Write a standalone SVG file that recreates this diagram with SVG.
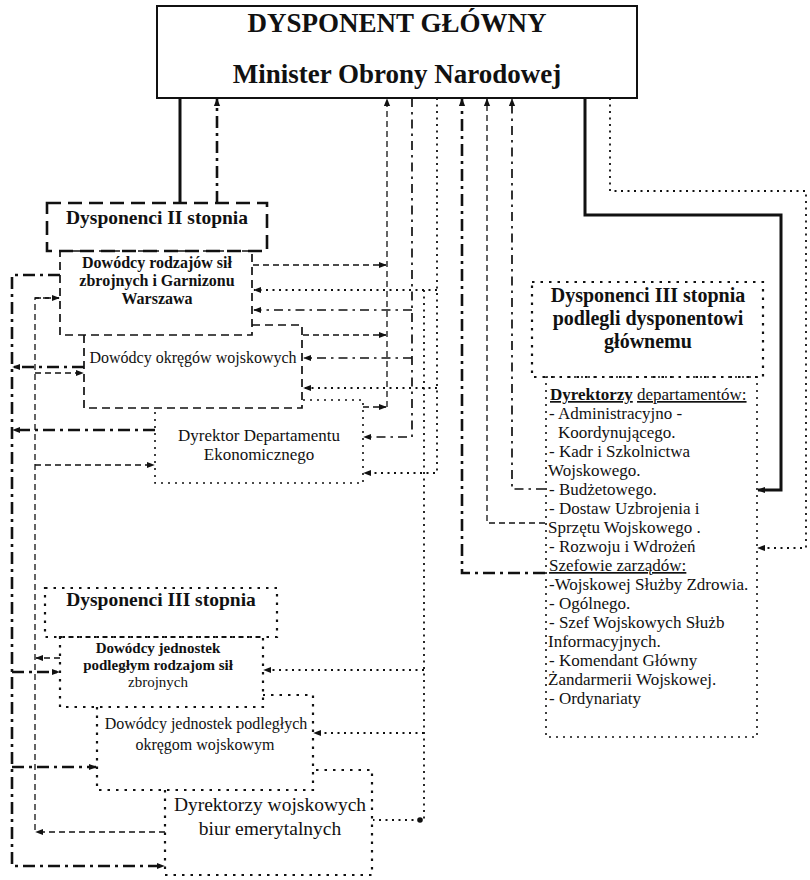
<svg xmlns="http://www.w3.org/2000/svg" width="810" height="880" viewBox="0 0 810 880">
<style>
text{font-family:"Liberation Serif","Times New Roman",serif;fill:#111}
.b{font-weight:bold}
.c{text-anchor:middle}
.solid{fill:none;stroke:#111;stroke-width:3}
.dd{fill:none;stroke:#111;stroke-width:2.6;stroke-dasharray:12 5 3 5}
.dt{fill:none;stroke:#111;stroke-width:1.7;stroke-dasharray:9 5 2.5 5}
.ds{fill:none;stroke:#111;stroke-width:1.3;stroke-dasharray:6 4}
.dot{fill:none;stroke:#111;stroke-width:1.8;stroke-dasharray:2 4.5}
.bx2{fill:none;stroke:#111;stroke-width:2.6;stroke-dasharray:14 7}
.bxd{fill:none;stroke:#111;stroke-width:1.7;stroke-dasharray:8 5}
.bxo{fill:none;stroke:#111;stroke-width:2.2;stroke-dasharray:2.5 6}
.bxt{fill:none;stroke:#111;stroke-width:1.6;stroke-dasharray:2 5}
.u{text-decoration:underline}
</style>
<defs>
<marker id="a" viewBox="0 0 10 10" refX="9" refY="5" markerWidth="8" markerHeight="8" markerUnits="userSpaceOnUse" orient="auto"><path d="M0,1 L10,5 L0,9 z" fill="#111" stroke="none"/></marker>
</defs>
<rect width="810" height="880" fill="#fff"/>

<g id="n-top">
<rect x="157" y="6" width="480" height="92" fill="#fff" stroke="#111" stroke-width="2"/>
<text class="b c" x="397" y="32" font-size="27">DYSPONENT GŁÓWNY</text>
<text class="b c" x="397" y="83" font-size="27">Minister Obrony Narodowej</text>
</g>

<g id="n-d2">
<rect class="bx2" x="47" y="203" width="220" height="48"/>
<text class="b c" x="157" y="224" font-size="19.5">Dysponenci II stopnia</text>
</g>
<g id="n-rodzajow">
<rect class="bxd" x="60" y="251" width="192" height="84"/>
<text class="b c" x="157" y="268" font-size="16">Dowódcy rodzajów sił</text>
<text class="b c" x="157" y="286" font-size="16">zbrojnych i Garnizonu</text>
<text class="b c" x="157" y="304" font-size="16">Warszawa</text>
</g>
<g id="n-okregow">
<path class="bxd" d="M252,325 H302 V408 H84 V335"/>
<text class="c" x="193" y="363" font-size="16">Dowódcy okręgów wojskowych</text>
</g>
<g id="n-ekon">
<path class="bxt" d="M303,400 H363 V483 H155 V408"/>
<text class="c" x="259" y="441" font-size="17">Dyrektor Departamentu</text>
<text class="c" x="259" y="460" font-size="17">Ekonomicznego</text>
</g>

<g id="n-d3">
<rect class="bxo" x="45" y="588" width="232" height="49"/>
<text class="b c" x="161" y="606" font-size="19.5">Dysponenci III stopnia</text>
</g>
<g id="n-jrodzajom">
<rect class="bxo" x="60" y="637" width="203" height="70"/>
<text class="b c" x="158" y="653" font-size="15">Dowódcy jednostek</text>
<text class="b c" x="158" y="670" font-size="15">podległym rodzajom sił</text>
<text class="c" x="158" y="687" font-size="15">zbrojnych</text>
</g>
<g id="n-jokregom">
<path class="bxo" d="M97,707 V790 H313 V695 H263"/>
<text class="c" x="206" y="729" font-size="16">Dowódcy jednostek podległych</text>
<text class="c" x="205" y="750" font-size="16">okręgom wojskowym</text>
</g>
<g id="n-biur">
<path class="bxo" d="M165,790 V875 H372 V770 H313"/>
<text class="c" x="270" y="811" font-size="19.5">Dyrektorzy wojskowych</text>
<text class="c" x="270" y="835" font-size="19.5">biur emerytalnych</text>
</g>

<g id="n-d3main">
<rect class="bxo" x="532" y="282" width="231" height="95"/>
<text class="b c" x="648" y="302" font-size="20">Dysponenci III stopnia</text>
<text class="b c" x="648" y="325" font-size="20">podlegli dysponentowi</text>
<text class="b c" x="648" y="348" font-size="20">głównemu</text>
</g>
<g id="n-list">
<rect class="bxt" x="546" y="377" width="211" height="360"/>
<g font-size="17">
<text x="550" y="400"><tspan class="b u">Dyrektorzy</tspan> <tspan class="u">departamentów:</tspan></text>
<text x="549" y="419">- Administracyjno -</text>
<text x="558" y="438">Koordynującego.</text>
<text x="549" y="457">- Kadr i Szkolnictwa</text>
<text x="548" y="476">Wojskowego.</text>
<text x="549" y="495">- Budżetowego.</text>
<text x="549" y="514">- Dostaw Uzbrojenia i</text>
<text x="548" y="533">Sprzętu Wojskowego .</text>
<text x="549" y="552">- Rozwoju i Wdrożeń</text>
<text class="u" x="549" y="571">Szefowie zarządów:</text>
<text x="549" y="590">-Wojskowej Służby Zdrowia.</text>
<text x="549" y="609">- Ogólnego.</text>
<text x="549" y="628">- Szef Wojskowych Służb</text>
<text x="548" y="647">Informacyjnych.</text>
<text x="549" y="666">- Komendant Główny</text>
<text x="548" y="685">Żandarmerii Wojskowej.</text>
<text x="549" y="704">- Ordynariaty</text>
</g>
</g>

<g id="connectors">
<path class="solid" d="M180,98 V203"/>
<path class="dd" d="M217,203 V99" marker-end="url(#a)"/>

<path class="ds" d="M387,407 V99" marker-end="url(#a)"/>
<path class="ds" d="M253,265 H386" marker-end="url(#a)"/>
<path class="ds" d="M303,335 H386" marker-end="url(#a)"/>
<path class="ds" d="M363,407 H386" marker-end="url(#a)"/>

<path class="dt" d="M412,98 V437 H364" marker-end="url(#a)"/>
<path class="dt" d="M412,310 H254" marker-end="url(#a)"/>
<path class="dt" d="M412,358 H304" marker-end="url(#a)"/>

<path class="dot" d="M437,98 V473 H364" marker-end="url(#a)"/>
<path class="dot" d="M437,290 H254" marker-end="url(#a)"/>
<path class="dot" d="M437,388 H304" marker-end="url(#a)"/>

<path class="dot" d="M424,290 V820"/>
<path class="dot" d="M424,670 H264" marker-end="url(#a)"/>
<path class="dot" d="M424,733 H314" marker-end="url(#a)"/>
<path class="dot" d="M420,820 H373"/>
<circle cx="420" cy="820" r="2.8" fill="#111"/>

<path class="dd" d="M545,573 H462 V99" marker-end="url(#a)"/>
<path class="ds" d="M545,523 H487 V99" marker-end="url(#a)"/>
<path class="dt" d="M545,489 H512 V99" marker-end="url(#a)"/>

<path class="solid" d="M585,98 V215 H781 V490 H758" marker-end="url(#a)"/>
<path class="dot" d="M610,98 V191 H806 V548 H758" marker-end="url(#a)"/>

<path class="dd" d="M60,275 H12 V866 H164" marker-end="url(#a)"/>
<path class="dd" d="M84,367 H13" marker-end="url(#a)"/>
<path class="dd" d="M155,430 H13" marker-end="url(#a)"/>
<path class="dd" d="M12,672 H59" marker-end="url(#a)"/>
<path class="dd" d="M12,767 H96" marker-end="url(#a)"/>

<path class="ds" d="M59,298 H35 V832"/>
<path class="ds" d="M35,298 H59" marker-end="url(#a)"/>
<path class="ds" d="M35,373 H83" marker-end="url(#a)"/>
<path class="ds" d="M35,465 H154" marker-end="url(#a)"/>
<path class="ds" d="M60,658 H36" marker-end="url(#a)"/>
<path class="ds" d="M165,832 H36" marker-end="url(#a)"/>
</g>
</svg>
